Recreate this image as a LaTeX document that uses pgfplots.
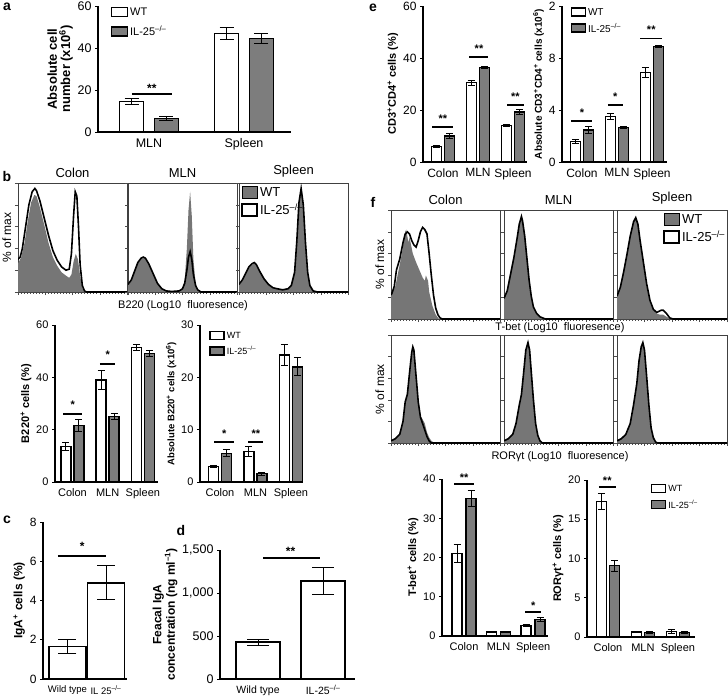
\documentclass[border=0pt]{standalone}
\usepackage{pgfplots}
\pgfplotsset{compat=1.18}
\usepackage{fontspec}
\setmainfont{Liberation Sans}
\definecolor{bargray}{RGB}{125,125,125}
\definecolor{histgray}{RGB}{118,118,118}
\newcommand{\ko}{IL-25\textsuperscript{–/–}}
\newcommand{\fs}[1]{\fontsize{#1}{#1}\selectfont}
\tikzset{sig/.style={line width=1.6pt}}
\pgfplotsset{
  barax/.style={scale only axis, anchor=south west, axis x line*=bottom, axis y line*=left,
    tick align=outside, ymin=0, xtick={1,2,3}, xticklabels={Colon,MLN,Spleen}, clip=false,
    axis line style={line width=1.3pt}, major tick length=3pt, tick style={line width=1pt,black},
    xtick style={draw=none}, /pgf/number format/assume math mode=true,
    ylabel style={font=\bfseries, align=center}, ylabel shift=-2pt,
    legend image code/.code={\draw[#1] (0pt,-3.5pt) rectangle (14pt,4.5pt);},
    legend style={draw=none, fill=none, inner sep=0pt, row sep=3pt, cells={anchor=west}}},
  wt/.style={ybar, bar shift=0pt, fill=white, draw=black, line width=1.4pt, /pgfplots/error bars/y dir=both,
    /pgfplots/error bars/y explicit, /pgfplots/error bars/error bar style={line width=1pt,black},
    /pgfplots/error bars/error mark options={line width=1pt, black, mark size=#1, rotate=90}},
  wt/.default=3pt,
  ko/.style={wt=#1, fill=bargray},
  ko/.default=3pt,
  histax/.style={scale only axis, anchor=south west, width=109pt, height=109pt, xmin=0, xmax=100,
    ymin=0, ymax=100, axis line style={line width=0.7pt, black!75}, xtick={0,25,50,75,100},
    minor x tick num=8, ytick={0,20,40,60,80,100}, xticklabels={}, yticklabels={}, tick align=outside,
    xtick pos=left, ytick pos=left, major tick length=3pt, minor tick length=1.5pt,
    tick style={black!70, line width=0.5pt}, title style={font=\fs{13}, yshift=-4pt},
    ylabel style={font=\fs{12}, at={(axis description cs:-0.03,0.5)}, anchor=south}, clip=true},
  wtfill/.style={fill=histgray, draw=none},
  koline/.style={black, line width=1.6pt},
}
\begin{document}
\begin{tikzpicture}
\path[use as bounding box] (0,0) rectangle (728pt,-697pt);
% panel letters
\node[font=\bfseries\fs{14}] at (7pt,-7pt) {a};
\node[font=\bfseries\fs{14}] at (7pt,-176pt) {b};
\node[font=\bfseries\fs{14}] at (7pt,-520pt) {c};
\node[font=\bfseries\fs{14}] at (181pt,-530pt) {d};
\node[font=\bfseries\fs{14}] at (373pt,-8pt) {e};
\node[font=\bfseries\fs{14}] at (373pt,-202pt) {f};

% ---------- a ----------
\begin{axis}[barax, at={(98pt,-132pt)}, width=193pt, height=126pt, xmin=0.463, xmax=2.495,
  ymax=60, ytick={0,20,40,60}, xtick={1,2}, xticklabels={MLN,Spleen},
  tick label style={font=\fs{12.5}}, ylabel={Absolute cell\\number (x10\textsuperscript{6})},
  ylabel style={font=\bfseries\fs{13}},
  legend style={at={(0.065,1.0)}, anchor=north west, font=\fs{11}, row sep=5pt},
  legend image code/.code={\draw[#1] (0pt,-4pt) rectangle (16pt,5pt);}]
\addlegendimage{fill=white, draw=black, line width=1.4pt}\addlegendentry{WT}
\addlegendimage{fill=bargray, draw=black, line width=1.4pt}\addlegendentry{\ko}
\addplot[bar width=24pt, wt=7pt] coordinates {(0.816,14.5) +- (0,1.5) (1.816,47) +- (0,3)};
\addplot[bar width=24pt, ko=7pt] coordinates {(1.184,6.5) +- (0,1) (2.184,44.5) +- (0,2.5)};
\draw[sig] (axis cs:0.82,18) -- (axis cs:1.24,18);
\node[font=\bfseries\fs{12}] at (axis cs:1.03,21) {**};
\end{axis}

% ---------- b histograms ----------
\begin{axis}[histax, at={(18pt,-292pt)}, title={Colon}, ylabel={\% of max}]
\addplot[wtfill] coordinates {(0,26)(3,32)(6,45)(9,65)(12,82)(15,89)(17,88)(20,78)(24,62)(28,45)(32,32)(36,24)(40,18)(44,15)(47,13)(49,16)(51,28)(53,35)(55,30)(57,15)(59,4)(61,0)(100,0)} \closedcycle;
\addplot[koline] coordinates {(0,30)(2,32)(4,40)(7,60)(10,80)(13,92)(15.5,95)(17,93)(20,84)(24,68)(28,52)(32,38)(36,29)(40,23)(44,20)(47,21)(49,35)(51,70)(52.5,92)(54,88)(55.5,60)(57,25)(59,6)(61,1)(63,0)(100,0)};
\end{axis}
\begin{axis}[histax, at={(128pt,-292pt)}, title={MLN}]
\addplot[wtfill] coordinates {(0,6)(3,10)(6,18)(9,26)(12,30)(14,31)(16,30)(19,25)(23,16)(27,8)(31,3)(35,1)(40,0.5)(47,1)(50,3)(52,10)(54,40)(55.5,75)(57,92)(58.5,70)(60,30)(62,8)(64,2)(67,0)(100,0)} \closedcycle;
\addplot[koline] coordinates {(0,7)(3,11)(6,19)(9,27)(12,31)(14,32)(16,31)(19,26)(23,17)(27,8)(31,3)(35,1)(40,0.5)(47,1)(50,3)(52,8)(54,20)(55.5,32)(57,37)(58.5,30)(60,16)(62,6)(64,2)(67,0)(100,0)};
\end{axis}
\begin{axis}[histax, at={(239pt,-292pt)}, title={Spleen},
  legend style={at={(0.02,0.98)}, anchor=north west, draw=none, fill=none, inner sep=0pt, row sep=2pt, font=\fs{13}, cells={anchor=west}},
  legend image code/.code={\draw[#1] (0pt,-6pt) rectangle (15pt,6pt);}]
\addlegendimage{fill=histgray, draw=none}\addlegendentry{WT}
\addlegendimage{fill=white, draw=black, line width=1.7pt}\addlegendentry{\ko}
\addplot[wtfill] coordinates {(0,6)(3,10)(6,16)(9,22)(12,25)(14,26)(16,24)(19,19)(23,12)(27,7)(31,4)(35,3)(40,2)(45,3)(48,6)(51,18)(53,45)(55,80)(57,94)(59,80)(61,45)(63,18)(65,6)(68,1)(72,0)(100,0)} \closedcycle;
\addplot[koline] coordinates {(0,7)(3,11)(6,17)(9,23)(12,26)(14,27)(16,25)(19,19)(23,12)(27,7)(31,4)(35,3)(40,2)(45,3)(48,6)(51,18)(53,46)(55,82)(57,95)(59,80)(61,45)(63,18)(65,6)(68,1)(72,0)(100,0)};
\end{axis}
\node[font=\fs{11}] at (183pt,-306pt) {B220 (Log10\ \ fluoresence)};

% ---------- b bars ----------
\begin{axis}[barax, at={(55pt,-482pt)}, width=103pt, height=157pt, xmin=0.504, xmax=3.43,
  ymax=60, ytick={0,20,40,60}, tick label style={font=\fs{11}},
  ylabel={B220\textsuperscript{+} cells (\%)}, ylabel style={font=\bfseries\fs{11}}]
\addplot[bar width=10pt, wt=3.5pt] coordinates {(0.816,13.5) +- (0,1.5) (1.816,39) +- (0,3.5) (2.816,51.5) +- (0,1.2)};
\addplot[bar width=10pt, ko=3.5pt] coordinates {(1.184,21.5) +- (0,2.2) (2.184,25) +- (0,1.2) (3.184,49.2) +- (0,1.2)};
\draw[sig] (axis cs:0.74,26) -- (axis cs:1.27,26);
\node[font=\bfseries\fs{11}] at (axis cs:1.01,29.5) {*};
\draw[sig] (axis cs:1.78,45) -- (axis cs:2.2,45);
\node[font=\bfseries\fs{11}] at (axis cs:2,48.5) {*};
\end{axis}
\begin{axis}[barax, at={(200pt,-482pt)}, width=103pt, height=157pt, xmin=0.437, xmax=3.34,
  ymax=30, ytick={0,10,20,30}, tick label style={font=\fs{11}},
  ylabel={Absolute B220\textsuperscript{+} cells (x10\textsuperscript{6})}, ylabel style={font=\bfseries\fs{9.5}},
  legend style={at={(0.09,0.97)}, anchor=north west, font=\fs{9}}]
\addlegendimage{fill=white, draw=black, line width=1.4pt}\addlegendentry{WT}
\addlegendimage{fill=bargray, draw=black, line width=1.4pt}\addlegendentry{\ko}
\addplot[bar width=10pt, wt=3.5pt] coordinates {(0.817,3.0) +- (0,0.2) (1.817,5.8) +- (0,1) (2.817,24.3) +- (0,2)};
\addplot[bar width=10pt, ko=3.5pt] coordinates {(1.183,5.5) +- (0,0.7) (2.183,1.6) +- (0,0.3) (3.183,22) +- (0,1.7)};
\draw[sig] (axis cs:0.84,7.6) -- (axis cs:1.4,7.6);
\node[font=\bfseries\fs{11}] at (axis cs:1.12,9.3) {*};
\draw[sig] (axis cs:1.8,7.6) -- (axis cs:2.22,7.6);
\node[font=\bfseries\fs{11}] at (axis cs:2.01,9.3) {**};
\end{axis}

% ---------- c ----------
\begin{axis}[barax, at={(43pt,-679pt)}, width=84pt, height=157pt, xmin=0.364, xmax=2.545,
  ymax=8, ytick={0,2,4,6,8}, xtick={1,2}, xticklabels={Wild type,IL 25\textsuperscript{–/–}},
  tick label style={font=\fs{12}}, xticklabel style={font=\fs{9.5}},
  ylabel={IgA\textsuperscript{+} cells (\%)}, ylabel style={font=\bfseries\fs{12}}]
\addplot[bar width=37pt, wt=9pt] coordinates {(1,1.65) +- (0,0.35) (2,4.9) +- (0,0.87)};
\draw[sig] (axis cs:0.75,6.27) -- (axis cs:2.0,6.27);
\node[font=\bfseries\fs{12}] at (axis cs:1.38,6.75) {*};
\end{axis}

% ---------- d ----------
\begin{axis}[barax, at={(220pt,-679pt)}, width=135pt, height=129pt, xmin=0.415, xmax=2.49,
  ymax=1500, ytick={0,500,1000,1500}, yticklabels={0,500,{1,000},{1,500}}, xtick={1,2},
  xticklabels={Wild type,\ko}, tick label style={font=\fs{12.5}}, xticklabel style={font=\fs{10.5}},
  ylabel={Feacal IgA\\concentration (ng ml\textsuperscript{–1})}, ylabel style={font=\bfseries\fs{12}}]
\addplot[bar width=44pt, wt=11pt] coordinates {(1,430) +- (0,35) (2,1140) +- (0,160)};
\draw[sig] (axis cs:1.08,1407) -- (axis cs:1.95,1407);
\node[font=\bfseries\fs{12}] at (axis cs:1.5,1480) {**};
\end{axis}

% ---------- e ----------
\begin{axis}[barax, at={(423pt,-162pt)}, width=104pt, height=156pt, xmin=0.43, xmax=3.4,
  ymax=60, ytick={0,20,40,60}, tick label style={font=\fs{12}},
  ylabel={CD3\textsuperscript{+}CD4\textsuperscript{+} cells (\%)}, ylabel style={font=\bfseries\fs{11}}]
\addplot[bar width=10pt, wt=3.5pt] coordinates {(0.814,6) +- (0,0.3) (1.814,30.5) +- (0,1) (2.814,14) +- (0,0.5)};
\addplot[bar width=10pt, ko=3.5pt] coordinates {(1.186,10) +- (0,1) (2.186,36.3) +- (0,0.4) (3.186,19.2) +- (0,1)};
\draw[sig] (axis cs:0.7,13.5) -- (axis cs:1.3,13.5);
\node[font=\bfseries\fs{11}] at (axis cs:1,16.5) {**};
\draw[sig] (axis cs:1.75,40.4) -- (axis cs:2.3,40.4);
\node[font=\bfseries\fs{11}] at (axis cs:2.03,43.4) {**};
\draw[sig] (axis cs:2.83,22) -- (axis cs:3.3,22);
\node[font=\bfseries\fs{11}] at (axis cs:3.07,25) {**};
\end{axis}
\begin{axis}[barax, at={(562pt,-162pt)}, width=105pt, height=156pt, xmin=0.43, xmax=3.43,
  ymax=12, ytick={0,4,8,12}, yticklabels={0,4,8,2}, tick label style={font=\fs{12}},
  ylabel={Absolute CD3\textsuperscript{+}CD4\textsuperscript{+} cells (x10\textsuperscript{6})},
  ylabel style={font=\bfseries\fs{10}},
  legend style={at={(0.08,1.0)}, anchor=north west, font=\fs{10}}]
\addlegendimage{fill=white, draw=black, line width=1.4pt}\addlegendentry{WT}
\addlegendimage{fill=bargray, draw=black, line width=1.4pt}\addlegendentry{\ko}
\addplot[bar width=10pt, wt=3.5pt] coordinates {(0.814,1.6) +- (0,0.15) (1.814,3.5) +- (0,0.2) (2.814,6.9) +- (0,0.4)};
\addplot[bar width=10pt, ko=3.5pt] coordinates {(1.186,2.45) +- (0,0.25) (2.186,2.65) +- (0,0.05) (3.186,8.9) +- (0,0.1)};
\draw[sig] (axis cs:0.7,3.15) -- (axis cs:1.3,3.15);
\node[font=\bfseries\fs{11}] at (axis cs:1,3.8) {*};
\draw[sig] (axis cs:1.74,4.4) -- (axis cs:2.17,4.4);
\node[font=\bfseries\fs{11}] at (axis cs:1.95,5.05) {*};
\draw[sig] (axis cs:2.67,9.5) -- (axis cs:3.3,9.5);
\node[font=\bfseries\fs{11}] at (axis cs:2.98,10.2) {**};
\end{axis}

% ---------- f histograms ----------
\begin{axis}[histax, at={(391pt,-319pt)}, title={Colon}, ylabel={\% of max}]
\addplot[wtfill] coordinates {(0,22)(1,24)(4,30)(7,45)(10,60)(13,80)(14,82)(16,70)(17,75)(20,60)(23,52)(26,45)(29,38)(31,35)(32,40)(34,35)(35,25)(38,12)(41,4)(44,0)(100,0)} \closedcycle;
\addplot[koline] coordinates {(0,22)(1,24)(3,30)(5,45)(8,55)(11,70)(13,78)(15,80)(17,78)(19,72)(21,68)(23,66)(25,72)(27,80)(29,84)(31,82)(33,78)(35,60)(37,40)(39,22)(41,10)(43,4)(45,1)(47,0)(100,0)};
\end{axis}
\begin{axis}[histax, at={(504pt,-319pt)}, title={MLN}]
\addplot[wtfill] coordinates {(0,18)(3,25)(6,40)(9,55)(12,72)(14,85)(16,92)(17,88)(19,75)(21,55)(23,35)(25,20)(27,10)(30,5)(33,2)(38,0)(100,0)} \closedcycle;
\addplot[koline] coordinates {(0,19)(3,26)(6,41)(9,56)(12,74)(14,87)(16,94)(17,90)(19,76)(21,56)(23,36)(25,21)(27,11)(30,5)(33,2)(38,0)(100,0)};
\end{axis}
\begin{axis}[histax, at={(617pt,-319pt)}, width=110pt, title={Spleen},
  legend style={at={(0.42,0.98)}, anchor=north west, draw=none, fill=none, inner sep=0pt, row sep=2pt, font=\fs{13}, cells={anchor=west}},
  legend image code/.code={\draw[#1] (0pt,-6pt) rectangle (15pt,6pt);}]
\addlegendimage{fill=histgray, draw=none}\addlegendentry{WT}
\addlegendimage{fill=white, draw=black, line width=1.7pt}\addlegendentry{\ko}
\addplot[wtfill] coordinates {(0,20)(3,28)(6,42)(9,58)(12,75)(15,88)(17,92)(19,86)(21,70)(24,50)(27,30)(30,15)(33,8)(36,5)(39,4)(42,4)(45,2)(48,0.5)(50,0)(100,0)} \closedcycle;
\addplot[koline] coordinates {(0,21)(3,29)(6,43)(9,59)(12,76)(15,89)(17,93)(19,87)(21,72)(24,52)(27,32)(30,17)(33,9)(36,6)(38,7)(40,8)(42,8)(45,5)(48,1)(51,0)(100,0)};
\end{axis}
\node[font=\fs{11}] at (560pt,-328pt) {T-bet (Log10\ \ fluoresence)};
\begin{axis}[histax, at={(391pt,-443pt)}, height=108pt, ylabel={\% of max}]
\addplot[wtfill] coordinates {(0,2)(4,4)(8,8)(11,20)(13,38)(15,45)(17,65)(19,82)(20,88)(21,85)(23,60)(25,35)(27,25)(29,22)(31,18)(33,10)(35,5)(37,2)(40,0)(100,0)} \closedcycle;
\addplot[koline] coordinates {(0,2)(4,4)(8,8)(11,20)(13,38)(15,45)(17,65)(19,84)(20,89)(21,86)(23,62)(25,38)(27,24)(29,18)(31,12)(33,6)(35,2)(37,0)(100,0)};
\end{axis}
\begin{axis}[histax, at={(504pt,-443pt)}, height=108pt]
\addplot[wtfill] coordinates {(0,2)(4,4)(8,8)(11,18)(14,35)(16,45)(18,65)(20,85)(22,92)(23.5,85)(25,65)(27,40)(29,18)(31,7)(33,2)(35,0)(100,0)} \closedcycle;
\addplot[koline] coordinates {(0,2)(4,4)(8,8)(11,18)(14,35)(16,45)(18,65)(20,86)(22,93)(23.5,86)(25,66)(27,40)(29,18)(31,7)(33,2)(35,0)(100,0)};
\end{axis}
\begin{axis}[histax, at={(617pt,-443pt)}, width=110pt, height=108pt]
\addplot[wtfill] coordinates {(0,2)(4,4)(8,8)(12,18)(15,35)(18,55)(20,75)(22,88)(23.5,92)(25,85)(27,60)(29,35)(31,14)(33,5)(35,1)(37,0)(100,0)} \closedcycle;
\addplot[koline] coordinates {(0,2)(4,4)(8,8)(12,18)(15,35)(18,55)(20,76)(22,89)(23.5,93)(25,86)(27,61)(29,35)(31,14)(33,5)(35,1)(37,0)(100,0)};
\end{axis}
\node[font=\fs{11}] at (560pt,-457pt) {RORγt (Log10\ \ fluoresence)};

% ---------- f bars ----------
\begin{axis}[barax, at={(442pt,-636pt)}, width=106pt, height=157pt, xmin=0.362, xmax=3.43,
  ymax=40, ytick={0,10,20,30,40}, tick label style={font=\fs{11}},
  ylabel={T-bet\textsuperscript{+} cells (\%)}, ylabel style={font=\bfseries\fs{11}}]
\addplot[bar width=10pt, wt=3.5pt] coordinates {(0.797,21) +- (0,2.2) (1.797,1) +- (0,0.1) (2.797,2.7) +- (0,0.2)};
\addplot[bar width=10pt, ko=3.5pt] coordinates {(1.203,35) +- (0,2) (2.203,1) +- (0,0.1) (3.203,4.2) +- (0,0.4)};
\draw[sig] (axis cs:0.72,38.7) -- (axis cs:1.28,38.7);
\node[font=\bfseries\fs{11}] at (axis cs:1,40.3) {**};
\draw[sig] (axis cs:2.77,6.1) -- (axis cs:3.23,6.1);
\node[font=\bfseries\fs{11}] at (axis cs:3,7.8) {*};
\end{axis}
\begin{axis}[barax, at={(587pt,-637pt)}, width=108pt, height=157pt, xmin=0.4, xmax=3.49,
  ymax=20, ytick={0,5,10,15,20}, tick label style={font=\fs{11}},
  ylabel={RORγt\textsuperscript{+} cells (\%)}, ylabel style={font=\bfseries\fs{11}},
  legend style={at={(0.59,0.98)}, anchor=north west, font=\fs{9}}]
\addlegendimage{fill=white, draw=black, line width=1.4pt}\addlegendentry{WT}
\addlegendimage{fill=bargray, draw=black, line width=1.4pt}\addlegendentry{\ko}
\addplot[bar width=10pt, wt=3.5pt] coordinates {(0.814,17.3) +- (0,1) (1.814,0.65) +- (0,0.05) (2.814,0.7) +- (0,0.3)};
\addplot[bar width=10pt, ko=3.5pt] coordinates {(1.186,9.1) +- (0,0.7) (2.186,0.55) +- (0,0.1) (3.186,0.6) +- (0,0.1)};
\draw[sig] (axis cs:0.74,19.1) -- (axis cs:1.23,19.1);
\node[font=\bfseries\fs{11}] at (axis cs:0.98,19.9) {**};
\end{axis}
\end{tikzpicture}
\end{document}
